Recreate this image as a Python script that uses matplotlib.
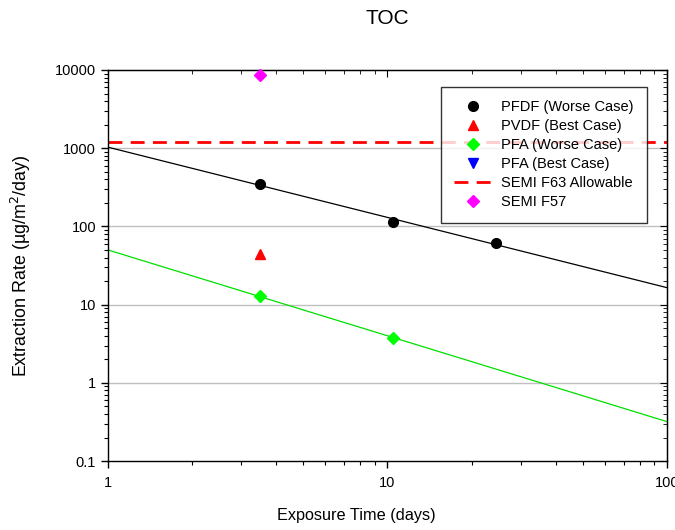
import matplotlib

matplotlib.use("Agg")

import matplotlib.pyplot as plt
from matplotlib.ticker import FixedLocator, LogLocator, NullFormatter

plt.rcParams["font.family"] = ["Liberation Sans", "DejaVu Sans"]

# measured points
pfdf_worse_x = [3.5, 10.5, 24.5]
pfdf_worse_y = [350, 115, 62]
pvdf_best_x = [3.5]
pvdf_best_y = [45]
pfa_worse_x = [3.5, 10.5]
pfa_worse_y = [13, 3.8]
pfa_best_x = []
pfa_best_y = []
semi_f57_x = [3.5]
semi_f57_y = [8700]
semi_f63_limit = 1200

# power-law fit lines (straight in log-log), read at the axis ends
fit_x = [1, 100]
pfdf_fit_y = [1030, 16.5]
pfa_fit_y = [50, 0.32]

y_ticks = [0.1, 1, 10, 100, 1000, 10000]
y_tick_labels = ["0.1", "1", "10", "100", "1000", "10000"]
x_ticks = [1, 10, 100]
x_tick_labels = ["1", "10", "100"]

fig = plt.figure(figsize=(6.75, 5.3), dpi=100)
ax = fig.add_axes([0.16, 0.130, 0.828, 0.738])
ax.set_xscale("log")
ax.set_yscale("log")
ax.set_xlim(1, 100)
ax.set_ylim(0.1, 10000)

for y in y_ticks[1:-1]:
    ax.axhline(y, color="#c0c0c0", linewidth=1.0, zorder=0)

ax.plot(fit_x, pfdf_fit_y, color="black", linewidth=0.9, zorder=2)
ax.plot(fit_x, pfa_fit_y, color="#00e000", linewidth=0.9, zorder=2)

ax.plot(pfdf_worse_x, pfdf_worse_y, "o", color="black", markersize=7,
        linestyle="none", label="PFDF (Worse Case)", zorder=3)
ax.plot(pvdf_best_x, pvdf_best_y, "^", color="red", markersize=7,
        linestyle="none", label="PVDF (Best Case)", zorder=3)
ax.plot(pfa_worse_x, pfa_worse_y, "D", color="#00ff00", markersize=6,
        linestyle="none", label="PFA (Worse Case)", zorder=3)
ax.plot(pfa_best_x, pfa_best_y, "v", color="blue", markersize=7,
        linestyle="none", label="PFA (Best Case)", zorder=3)
ax.axhline(semi_f63_limit, color="red", linestyle=(0, (5, 3)), linewidth=2,
           label="SEMI F63 Allowable", zorder=2)
ax.plot(semi_f57_x, semi_f57_y, "D", color="magenta", markersize=6,
        linestyle="none", label="SEMI F57", zorder=3, clip_on=False)

ax.yaxis.set_major_locator(FixedLocator(y_ticks))
ax.set_yticklabels(y_tick_labels)
ax.xaxis.set_major_locator(FixedLocator(x_ticks))
ax.set_xticklabels(x_tick_labels)
ax.yaxis.set_minor_locator(LogLocator(base=10, subs=range(2, 10), numticks=20))
ax.xaxis.set_minor_locator(LogLocator(base=10, subs=range(2, 10), numticks=20))
ax.yaxis.set_minor_formatter(NullFormatter())
ax.xaxis.set_minor_formatter(NullFormatter())

ax.tick_params(which="major", direction="out", length=5, width=1, labelsize=10.5)
ax.tick_params(which="minor", direction="out", length=3, width=0.8)
ax.tick_params(axis="x", pad=6)

for spine in ax.spines.values():
    spine.set_linewidth(1)

top = ax.secondary_xaxis("top")
top.xaxis.set_major_locator(FixedLocator(x_ticks))
top.xaxis.set_minor_locator(LogLocator(base=10, subs=range(2, 10), numticks=20))
top.tick_params(which="major", direction="in", length=5, labeltop=False)
top.tick_params(which="minor", direction="in", length=3)
top.xaxis.set_major_formatter(NullFormatter())
top.xaxis.set_minor_formatter(NullFormatter())

right = ax.secondary_yaxis("right")
right.yaxis.set_major_locator(FixedLocator(y_ticks))
right.yaxis.set_minor_locator(LogLocator(base=10, subs=range(2, 10), numticks=20))
right.tick_params(which="major", direction="in", length=5, labelright=False)
right.tick_params(which="minor", direction="in", length=3)
right.yaxis.set_major_formatter(NullFormatter())
right.yaxis.set_minor_formatter(NullFormatter())

ax.set_xlabel("Exposure Time (days)", fontsize=11.7)
ax.xaxis.set_label_coords(0.444, -0.12)
ax.set_ylabel("Extraction Rate (\u00b5g/m$^2$/day)", fontsize=12.9)
ax.yaxis.set_label_coords(-0.134, 0.5)
ax.set_title("TOC", fontsize=15, pad=33)

leg = ax.legend(loc="upper right", bbox_to_anchor=(0.964, 0.957), fontsize=10.5,
                frameon=True, fancybox=False, edgecolor="black",
                handlelength=2.6, borderpad=0.9, labelspacing=0.35,
                handletextpad=0.6, borderaxespad=0)
leg.get_frame().set_linewidth(1)
leg.set_zorder(5)

fig.savefig("out.png", dpi=100)
